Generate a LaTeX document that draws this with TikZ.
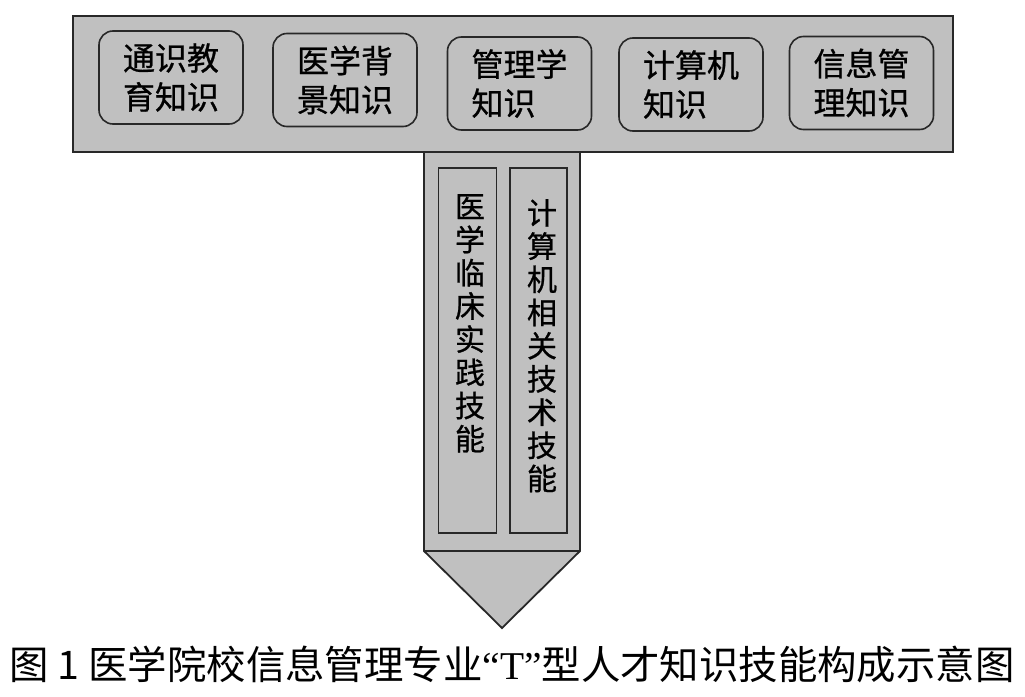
\documentclass[tikz,border=0pt]{standalone}
\usepackage{fontspec}
\newfontfamily\cjk[FakeBold=0.8]{Noto Sans CJK SC}
\newfontfamily\cjkcap{Noto Sans CJK SC}
\newfontfamily\latserif{Liberation Serif}
\definecolor{fillgray}{RGB}{192,192,192}
\definecolor{edge}{RGB}{40,40,40}
\begin{document}
\begin{tikzpicture}[x=1pt,y=-1pt,
  shell/.style={draw=edge,line width=1.8pt,fill=fillgray,line join=miter},
  topbox/.style={draw=edge,line width=1.6pt,fill=fillgray,rounded corners=14pt,
    minimum width=144pt,minimum height=93pt,inner sep=0pt,align=left,
    font=\cjk\fontsize{32}{39}\selectfont},
  colbox/.style={draw=edge,line width=1.6pt,fill=fillgray,inner sep=0pt,
    minimum width=58pt,minimum height=365pt},
  coltext/.style={anchor=north,inner sep=0pt,align=center,
    font=\cjk\fontsize{30}{33.2}\selectfont},
  caption/.style={inner sep=0pt,font=\cjkcap\fontsize{38}{40}\selectfont}]
\useasboundingbox (0,0) rectangle (1025,696);
\fill[white] (0,0) rectangle (1025,696);
% stem with arrow point
\draw[shell] (424,152) -- (580,152) -- (580,551) -- (502,628) -- (424,551) -- cycle;
\draw[shell] (424,551) -- (580,551);
% top bar
\node[shell,minimum width=880pt,minimum height=136pt,inner sep=0pt] (bar) at (513,84) {};
% top knowledge boxes
\node[topbox] (b1) at (171,77.5) {通识教\\育知识};
\node[topbox] (b2) at (345,80) {医学背\\景知识};
\node[topbox] (b3) at (519.5,83.5) {管理学\\知识};
\node[topbox] (b4) at (691,84.5) {计算机\\知识};
\node[topbox] (b5) at (861.5,83) {信息管\\理知识};
% vertical columns
\node[colbox] (c1) at (467.5,350.5) {};
\node[colbox,minimum width=57pt] (c2) at (538.5,350.5) {};
\node[coltext] (t1) at (470,194) {医\\学\\临\\床\\实\\践\\技\\能};
\node[coltext] (t2) at (542,199) {计\\算\\机\\相\\关\\技\\术\\技\\能};
% caption
\node[caption] (cap) at (512,664) {\resizebox{1005pt}{!}{图\ 1\ 医学院校信息管理专业{\latserif “T”}型人才知识技能构成示意图}};
\end{tikzpicture}
\end{document}
